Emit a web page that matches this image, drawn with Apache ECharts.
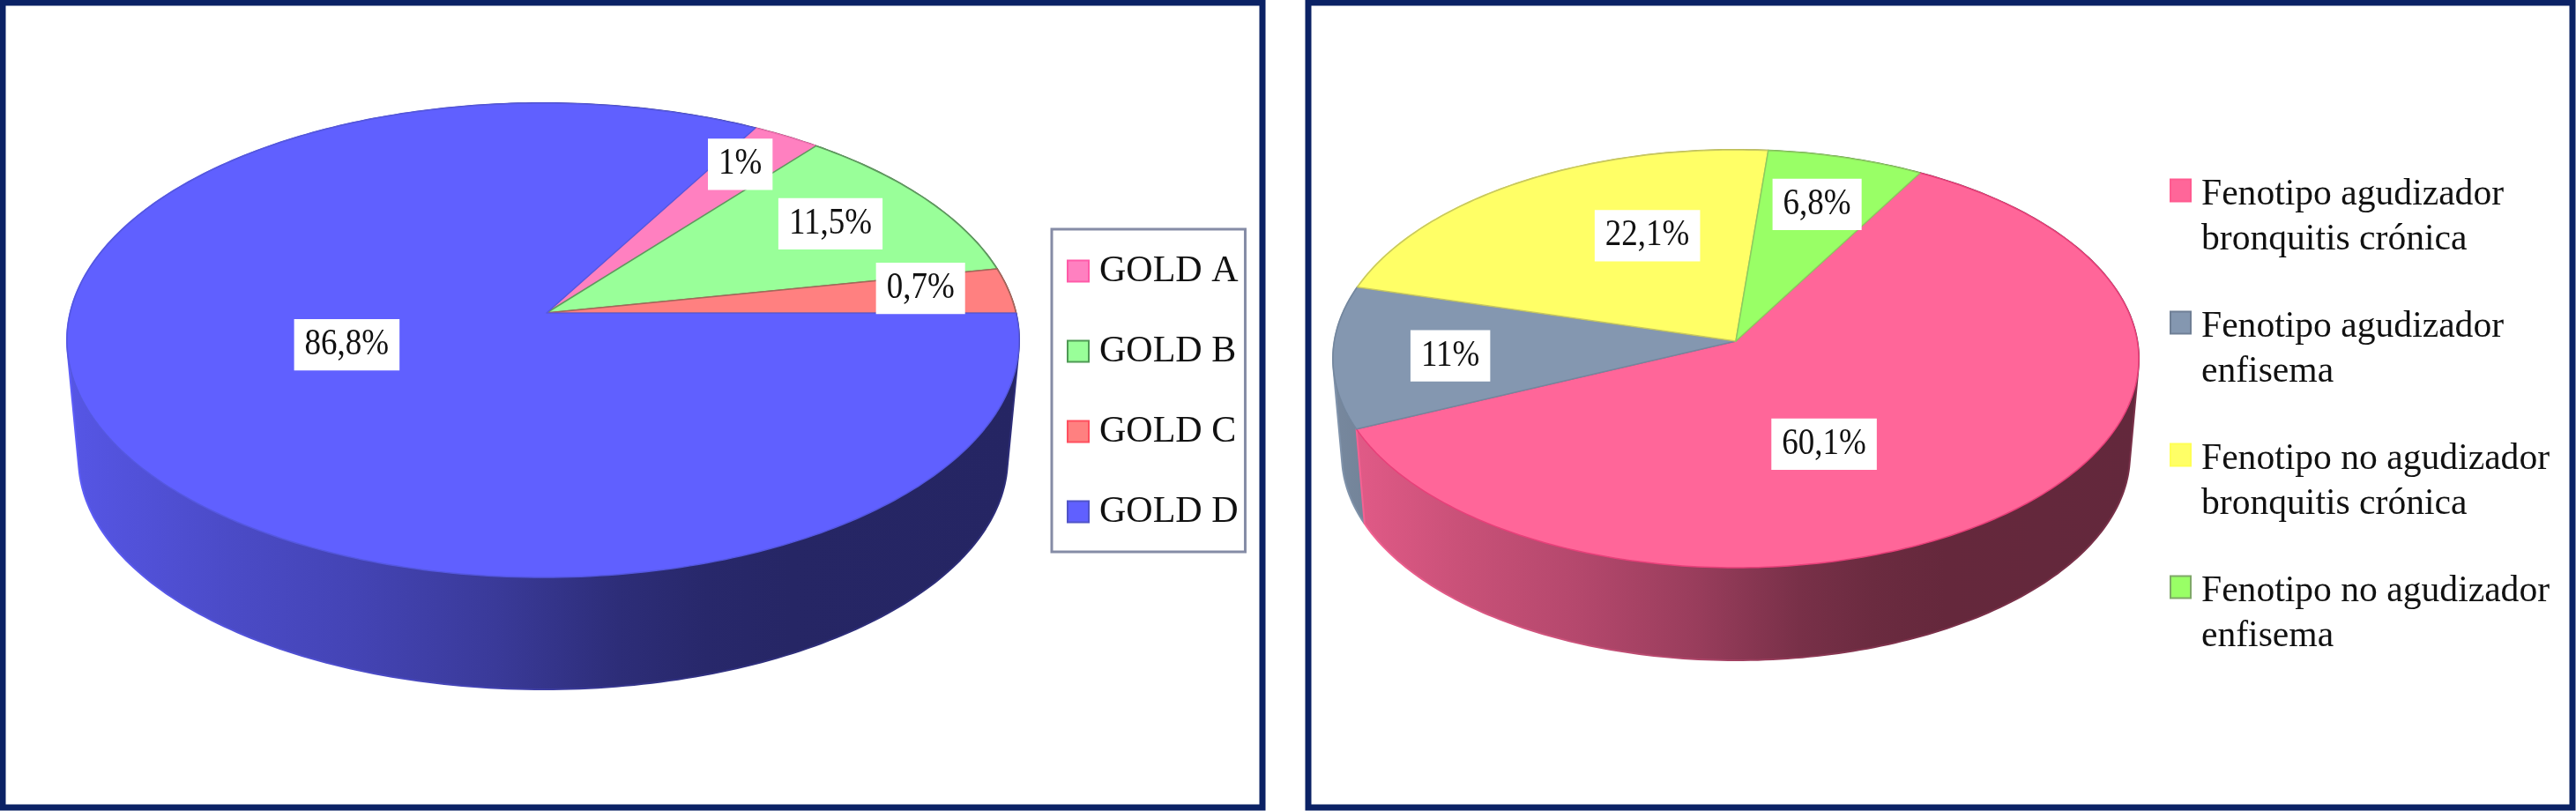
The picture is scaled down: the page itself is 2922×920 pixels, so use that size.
<!DOCTYPE html>
<html>
<head>
<meta charset="utf-8">
<style>html,body{margin:0;padding:0;background:#fff}#chart{width:2922px;height:920px}</style>
<script src="https://cdn.jsdelivr.net/npm/echarts@6/dist/echarts.min.js"></script>
</head>
<body>
<div id="chart"></div>
<script>
// Left pie: printed labels, and the shares the slices actually occupy in the picture.
const goldCategories = ['GOLD A', 'GOLD B', 'GOLD C', 'GOLD D'];
const goldLabels = ['1%', '11,5%', '0,7%', '86,8%'];
const goldDrawnShare = [2.6, 11.1, 3.1, 83.2];

// Right pie
const phenoCategories = [
  'Fenotipo agudizador\nbronquitis crónica',
  'Fenotipo agudizador\nenfisema',
  'Fenotipo no agudizador\nbronquitis crónica',
  'Fenotipo no agudizador\nenfisema'
];
const phenoLabels = ['60,1%', '11%', '22,1%', '6,8%'];
const phenoValues = [60.1, 11, 22.1, 6.8];

// Styles and layout
const FONT = '"Liberation Serif","Times New Roman",serif';
const NAVY = '#0b2265';
const goldStyle = {
  colors: ['#ff80c0', '#99ff99', '#ff8080', '#6060ff'],
  strokes: ['#f070b0', '#5f9a5f', '#a8665a', '#5558e0'],
  legendBorders: ['#ff5aa8', '#4f9a55', '#ff4f5f', '#5054c8']
};
const phenoStyle = {
  colors: ['#ff6699', '#8497b0', '#ffff66', '#99ff66'],
  strokes: ['#e8407a', '#74879e', '#c8c860', '#8ccc60'],
  legendBorders: ['#ff5a90', '#6f7f95', '#ffff55', '#7fa868']
};
const goldPie = {
  cx: 616, apexX: 620, startAngle: 29.6, labelDy: 0,
  top: {cy: 386, a: 540, b: 269, e: 31}, bottom: {cy: 520, a: 527, b: 262, e: 31},
  labelR: [0.82, 0.75, 0.815, 0.43], labelTurn: [-1, -1, -2, 12]
};
const phenoPie = {
  cx: 1969, apexX: 1969, startAngle: 29.5, labelDy: 4,
  top: {cy: 407, a: 457, b: 237, e: 20}, bottom: {cy: 516, a: 447, b: 233, e: 20},
  labelR: [0.507, 0.71, 0.596, 0.7485], labelTurn: [17.7, 0, 12, -0.6]
};
const wallShade = [[0, 0.9], [0.17, 0.78], [0.3, 0.71], [0.45, 0.6], [0.58, 0.47], [0.67, 0.42], [0.76, 0.395], [1, 0.39]];

function shade(hex, f) {
  const n = parseInt(hex.slice(1), 16);
  return 'rgb(' + [(n >> 16) & 255, (n >> 8) & 255, n & 255].map(c => Math.min(255, Math.round(c * f))).join(',') + ')';
}
// Perspective projection of a point of the unit disc on to the drawn ellipse.
function project(pie, face, r, deg) {
  const t = deg * Math.PI / 180;
  const X = r * Math.sin(t), Y = -r * Math.cos(t);
  const k = -face.e / face.b;
  const p = face.a * Math.sqrt(1 - k * k);
  const w = 1 + k * Y;
  return [pie.cx + p * X / w, face.cy + (face.b * Y - face.e) / w];
}
function arc(pie, face, from, to) {
  const pts = [];
  const n = Math.max(2, Math.ceil(Math.abs(to - from)));
  for (let i = 0; i <= n; i++) pts.push(project(pie, face, 1, from + (to - from) * i / n));
  return pts;
}
// The side wall of a slice is the convex outline of its upper and lower rims.
function hull(points) {
  const pts = points.slice().sort((a, b) => a[0] - b[0] || a[1] - b[1]);
  const cross = (o, a, b) => (a[0] - o[0]) * (b[1] - o[1]) - (a[1] - o[1]) * (b[0] - o[0]);
  const build = list => {
    const out = [];
    list.forEach(p => {
      while (out.length > 1 && cross(out[out.length - 2], out[out.length - 1], p) <= 0) out.pop();
      out.push(p);
    });
    out.pop();
    return out;
  };
  return build(pts).concat(build(pts.slice().reverse()));
}
function sliceSeries(pie, names, values, labels, style) {
  let cum = 0;
  const total = values.reduce((s, v) => s + v, 0);
  return values.map((v, i) => {
    const row = [cum, v];
    cum += v;
    return {
      type: 'custom',
      name: names[i],
      coordinateSystem: 'none',
      animation: false,
      silent: true,
      itemStyle: {color: style.colors[i]},
      data: [row],
      renderItem: function (params, api) {
        const from = pie.startAngle + api.value(0) / total * 360;
        const to = from + api.value(1) / total * 360;
        const topArc = arc(pie, pie.top, from, to);
        const botArc = arc(pie, pie.bottom, from, to);
        const left = pie.cx - pie.top.a, width = 2 * pie.top.a;
        const centre = (from + to) / 2;
        const lp = project(pie, pie.top, pie.labelR[i], centre + pie.labelTurn[i]);
        const grad = add => ({
          type: 'linear', global: true, x: left, y: 0, x2: left + width, y2: 0,
          colorStops: wallShade.map(s => ({offset: s[0], color: shade(style.colors[i], s[1] + add)}))
        });
        return {
          type: 'group',
          children: [
            {
              type: 'polygon', z2: 1 + (1 - Math.cos(centre * Math.PI / 180)) / 2,
              shape: {points: hull(topArc.concat(botArc))},
              style: {fill: grad(0), stroke: grad(0.08), lineWidth: 2, lineJoin: 'round'}
            },
            {
              type: 'polygon', z2: 3,
              shape: {points: [[pie.apexX, pie.top.cy - pie.top.e]].concat(topArc)},
              style: {fill: style.colors[i], stroke: style.strokes[i], lineWidth: 1.5, lineJoin: 'round'}
            },
            {
              type: 'text', z2: 4, x: lp[0], y: lp[1] + pie.labelDy, scaleY: 1.12,
              style: {
                x: 0, y: 0, text: labels[i], align: 'center', verticalAlign: 'middle',
                fill: '#111', font: '37px ' + FONT, backgroundColor: '#fff', padding: [7.5, 12]
              }
            }
          ]
        };
      }
    };
  });
}

const chart = echarts.init(document.getElementById('chart'), null, {renderer: 'canvas'});
chart.setOption({
  animation: false,
  backgroundColor: '#fff',
  graphic: [
    {type: 'rect', silent: true, z: 0, shape: {x: 3, y: 3, width: 1429, height: 913}, style: {fill: '#fff', stroke: NAVY, lineWidth: 7}},
    {type: 'rect', silent: true, z: 0, shape: {x: 1484, y: 3, width: 1434, height: 913}, style: {fill: '#fff', stroke: NAVY, lineWidth: 7}}
  ],
  legend: [
    {
      orient: 'vertical', left: 1193, top: 260, selectedMode: false,
      padding: [22, 8, 20, 17], borderColor: '#858ca6', borderWidth: 3, backgroundColor: '#fff',
      itemWidth: 24, itemHeight: 24, itemGap: 40, icon: 'rect',
      textStyle: {fontFamily: FONT, fontSize: 42, lineHeight: 42, color: '#111', padding: [9, 0, 0, 7]},
      data: goldCategories.map((n, i) => ({name: n, itemStyle: {color: goldStyle.colors[i], borderColor: goldStyle.legendBorders[i], borderWidth: 2}}))
    },
    {
      orient: 'vertical', left: 2461, top: 196, selectedMode: false, padding: 0,
      itemWidth: 23, itemHeight: 87, itemGap: 48,
      icon: 'path://M0 0H23V25H0Z M0 87L0.01 87Z',
      textStyle: {fontFamily: FONT, fontSize: 41.6, lineHeight: 51, color: '#111', padding: [0, 0, 0, 7]},
      data: phenoCategories.map((n, i) => ({name: n, itemStyle: {color: phenoStyle.colors[i], borderColor: phenoStyle.legendBorders[i], borderWidth: 2}}))
    }
  ],
  series: sliceSeries(goldPie, goldCategories, goldDrawnShare, goldLabels, goldStyle)
    .concat(sliceSeries(phenoPie, phenoCategories, phenoValues, phenoLabels, phenoStyle))
});
</script>
</body>
</html>
